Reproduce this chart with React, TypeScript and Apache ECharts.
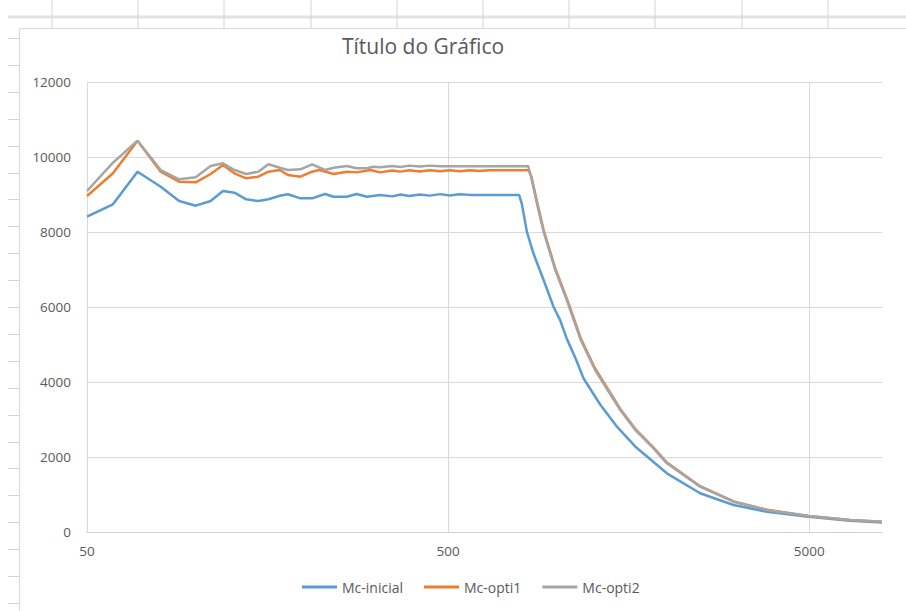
import React, { useEffect, useRef } from "react";
import * as echarts from "echarts";

const TITLE = "Título do Gráfico";
const SERIES_NAMES = ["Mc-inicial", "Mc-opti1", "Mc-opti2"];
const SERIES_COLORS = ["#5B9BD5", "#ED7D31", "#A5A5A5"];

const X_MIN = 50;
const X_MAX = 7950;
const X_TICK_LABELS = ["50", "500", "5000"];
const Y_TICK_LABELS = ["0", "2000", "4000", "6000", "8000", "10000", "12000"];

const inicialX = [50, 59, 69, 80, 90, 100, 110, 119, 128, 138, 149, 159, 171, 180, 195, 210, 228, 241, 262, 279, 298, 324, 350, 369, 390, 417, 445, 475, 505, 538, 575, 786, 800, 826, 861, 919, 979, 1021, 1066, 1130, 1185, 1318, 1467, 1650, 2017, 2493, 3085, 3817, 4977, 6488, 7950];
const inicialY = [8408, 8739, 9608, 9208, 8827, 8702, 8827, 9093, 9048, 8872, 8827, 8872, 8968, 9005, 8898, 8898, 9013, 8941, 8941, 9013, 8941, 8987, 8950, 9000, 8960, 9000, 8970, 9010, 8975, 9005, 8990, 8990, 8750, 8008, 7432, 6720, 6008, 5650, 5150, 4600, 4100, 3400, 2808, 2275, 1565, 1032, 720, 541, 408, 301, 256];

const opti1X = [50, 59, 69, 80, 90, 100, 110, 119, 128, 138, 149, 159, 171, 180, 195, 210, 220, 241, 262, 279, 305, 324, 350, 369, 390, 417, 445, 475, 505, 538, 575, 610, 650, 835, 850, 880, 919, 990, 1066, 1165, 1276, 1346, 1498, 1650, 1853, 2017, 2493, 3085, 3817, 4977, 6488, 7950];
const opti1Y = [8960, 9565, 10435, 9608, 9342, 9325, 9546, 9787, 9565, 9432, 9476, 9608, 9653, 9520, 9476, 9608, 9653, 9546, 9608, 9590, 9653, 9590, 9640, 9610, 9645, 9615, 9645, 9620, 9645, 9620, 9645, 9625, 9645, 9645, 9480, 8830, 8050, 7030, 6220, 5160, 4360, 4000, 3280, 2745, 2250, 1850, 1220, 815, 592, 428, 318, 272];

const opti2X = [50, 59, 69, 80, 90, 100, 110, 119, 128, 138, 149, 159, 171, 180, 195, 210, 228, 241, 262, 279, 298, 310, 324, 350, 369, 390, 417, 445, 475, 833, 850, 880, 919, 990, 1066, 1165, 1276, 1346, 1498, 1650, 1853, 2017, 2493, 3085, 3817, 4977, 6488, 7950];
const opti2Y = [9093, 9848, 10435, 9653, 9404, 9458, 9760, 9832, 9653, 9546, 9608, 9805, 9715, 9653, 9671, 9805, 9653, 9715, 9760, 9698, 9698, 9742, 9724, 9760, 9735, 9770, 9745, 9770, 9755, 9755, 9450, 8780, 8008, 6987, 6180, 5120, 4320, 3965, 3253, 2720, 2232, 1832, 1208, 808, 587, 427, 320, 275];

const SERIES_X = [inicialX, opti1X, opti2X];
const SERIES_Y = [inicialY, opti1Y, opti2Y];

const FONT = "'Open Sans', 'Liberation Sans', sans-serif";
const TEXT_COLOR = "#595959";
const GRID_COLOR = "#d9d9d9";
const SHEET_COLOR = "#d4d4d4";

// decades from X_MIN (log10 transform of the x axis)
const toDecade = (v: number) => Math.log10(v / X_MIN);

function sheetLines() {
  const els: any[] = [];
  els.push({ type: "line", shape: { x1: 8, y1: 17, x2: 906, y2: 17 }, style: { stroke: "#e2e2e2", lineWidth: 3 }, silent: true, z: -10 });
  const cols = [52, 138, 224, 311, 397, 483, 569, 655, 742, 828];
  cols.forEach((x) => els.push({ type: "line", shape: { x1: x, y1: 0, x2: x, y2: 28 }, style: { stroke: SHEET_COLOR, lineWidth: 1 }, silent: true, z: -10 }));
  for (let k = 0; k < 22; k++) {
    const y = Math.round(38 + 26.9 * k) + 0.5;
    els.push({ type: "line", shape: { x1: 8, y1: y, x2: 19, y2: y }, style: { stroke: SHEET_COLOR, lineWidth: 1 }, silent: true, z: -10 });
  }
  els.push({ type: "line", shape: { x1: 19.5, y1: 28.5, x2: 906, y2: 28.5 }, style: { stroke: GRID_COLOR, lineWidth: 1 }, silent: true, z: -5 });
  els.push({ type: "line", shape: { x1: 19.5, y1: 28.5, x2: 19.5, y2: 611 }, style: { stroke: GRID_COLOR, lineWidth: 1 }, silent: true, z: -5 });
  return els;
}

export default function App() {
  const ref = useRef<HTMLDivElement>(null);

  useEffect(() => {
    if (!ref.current) return;
    const chart = echarts.init(ref.current, undefined, { renderer: "svg" });
    const option: any = {
      animation: false,
      backgroundColor: "#ffffff",
      textStyle: { fontFamily: FONT },
      title: {
        text: TITLE,
        left: 418,
        top: 30,
        textAlign: "center",
        textStyle: { fontFamily: FONT, fontSize: 21, fontWeight: "normal", color: TEXT_COLOR },
      },
      graphic: sheetLines(),
      legend: {
        left: 297,
        top: 575,
        icon: "rect",
        itemWidth: 35,
        itemHeight: 3,
        itemGap: 21,
        data: SERIES_NAMES,
        textStyle: { fontFamily: FONT, fontSize: 14, color: TEXT_COLOR },
      },
      grid: { left: 87, right: 24, top: 82, bottom: 79, containLabel: false },
      xAxis: {
        type: "value",
        min: 0,
        max: toDecade(X_MAX),
        interval: 1,
        axisLine: { show: true, lineStyle: { color: "#d0d0d0", width: 1 } },
        axisTick: { show: false },
        splitLine: { show: true, showMinLine: false, showMaxLine: false, lineStyle: { color: GRID_COLOR, width: 1 } },
        axisLabel: {
          margin: 12,
          fontFamily: FONT,
          fontSize: 13.5,
          color: TEXT_COLOR,
          showMaxLabel: false,
          formatter: (v: number) => {
            const r = Math.round(v);
            if (Math.abs(v - r) > 1e-6) return "";
            return X_TICK_LABELS[r] ?? "";
          },
        },
      },
      yAxis: {
        type: "value",
        min: 0,
        max: 12000,
        interval: 2000,
        axisLine: { show: true, lineStyle: { color: GRID_COLOR, width: 1 } },
        axisTick: { show: false },
        splitLine: { show: true, lineStyle: { color: GRID_COLOR, width: 1 } },
        axisLabel: {
          margin: 16,
          fontFamily: FONT,
          fontSize: 13.5,
          color: TEXT_COLOR,
          formatter: (v: number) => Y_TICK_LABELS[Math.round(v / 2000)] ?? String(v),
        },
      },
      series: SERIES_NAMES.map((name, i) => ({
        name,
        type: "line",
        symbol: "none",
        showSymbol: false,
        color: SERIES_COLORS[i],
        lineStyle: { color: SERIES_COLORS[i], width: 2.5 },
        data: SERIES_X[i].map((x, j) => [toDecade(x), SERIES_Y[i][j]]),
      })),
    };
    chart.setOption(option);
    return () => chart.dispose();
  }, []);

  return (
    <div
      ref={ref}
      style={{ position: "fixed", left: 0, top: 0, width: 906, height: 611, background: "#fff" }}
    />
  );
}
